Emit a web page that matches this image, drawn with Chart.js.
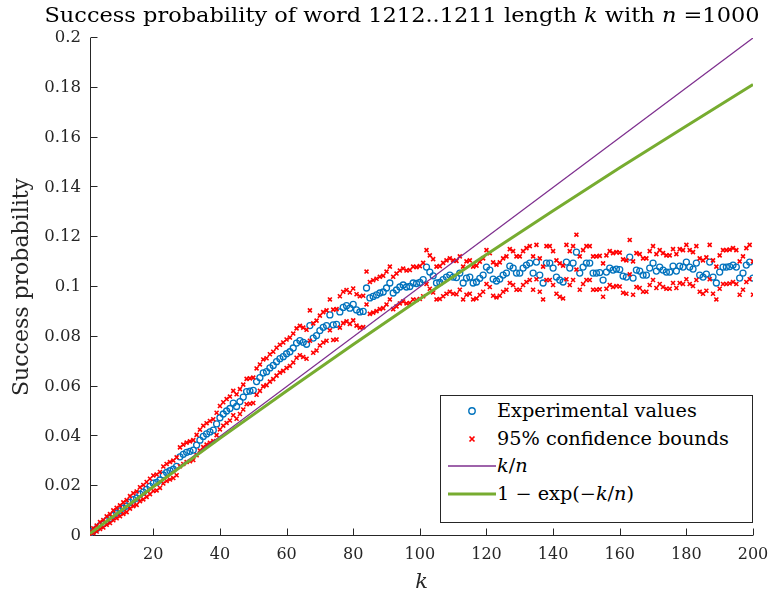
<!DOCTYPE html>
<html>
<head>
<meta charset="utf-8">
<script src="https://cdn.jsdelivr.net/npm/chart.js@4/dist/chart.umd.min.js"></script>
<style>
html,body{margin:0;padding:0;background:#fff;}
#wrap{position:relative;width:778px;height:600px;overflow:hidden;}
#c{position:absolute;left:0;top:0;}
#title{position:absolute;left:0;width:804px;top:0;height:30px;line-height:30px;text-align:center;font-family:'DejaVu Serif',serif;font-size:21px;color:#000;white-space:nowrap;transform:scaleX(1.07);transform-origin:402px 0;}
#legend{position:absolute;left:440px;top:395px;width:313px;height:128px;border:1px solid #262626;background:#fff;box-sizing:border-box;font-family:'DejaVu Serif',serif;font-size:18px;color:#000;}
#legend .row{position:absolute;left:0;height:28px;width:310px;}
#legend svg{position:absolute;left:0;top:0;}
#legend span{position:absolute;left:56px;top:0;line-height:28px;white-space:nowrap;transform:scaleX(1.07);transform-origin:0 0;}
</style>
</head>
<body>
<div id="wrap">
<canvas id="c" width="778" height="600"></canvas>
<div id="title">Success probability of word 1212..1211 length <i>k</i> with <i>n</i> =1000</div>
<div id="legend">
 <div class="row" style="top:1px"><svg width="56" height="28"><circle cx="31" cy="14" r="3.2" fill="none" stroke="#0072BD" stroke-width="1.4"/></svg><span>Experimental values</span></div>
 <div class="row" style="top:29px"><svg width="56" height="28"><path d="M28.5 11.5 L33.5 16.5 M33.5 11.5 L28.5 16.5" stroke="#FF0000" stroke-width="1.7"/></svg><span>95% confidence bounds</span></div>
 <div class="row" style="top:56px"><svg width="56" height="28"><line x1="7" y1="14" x2="55" y2="14" stroke="#7E2F8E" stroke-width="1.3"/></svg><span><i>k</i>/<i>n</i></span></div>
 <div class="row" style="top:84px"><svg width="56" height="28"><line x1="7" y1="14" x2="55" y2="14" stroke="#77AC30" stroke-width="3"/></svg><span>1 − exp(−<i>k</i>/<i>n</i>)</span></div>
</div>
</div>
<script>
// ---- data ----
const kFirst = 1; // k runs 1..200, one value per k
const experimental = [
0.0010,0.0021,0.0030,0.0042,0.0049,0.0062,0.0070,0.0083,0.0092,0.0101,0.0112,0.0120,0.0135,0.0146,0.0152,0.0168,0.0176,0.0187,0.0199,0.0212,
0.0215,0.0225,0.0245,0.0255,0.0262,0.0268,0.0280,0.0318,0.0328,0.0336,0.0340,0.0345,0.0365,0.0385,0.0400,0.0410,0.0418,0.0425,0.0450,0.0475,
0.0490,0.0502,0.0512,0.0534,0.0520,0.0540,0.0558,0.0580,0.0582,0.0585,0.0620,0.0636,0.0655,0.0660,0.0675,0.0685,0.0700,0.0712,0.0720,0.0732,
0.0740,0.0755,0.0775,0.0785,0.0778,0.0770,0.0845,0.0795,0.0805,0.0825,0.0838,0.0845,0.0888,0.0848,0.0850,0.0900,0.0918,0.0925,0.0915,0.0930,
0.0908,0.0900,0.0902,0.0996,0.0956,0.0962,0.0968,0.0976,0.0980,0.0996,0.1016,0.0976,0.0988,0.1000,0.1008,0.1000,0.1002,0.1016,0.1014,0.1018,
0.1030,0.1080,0.1060,0.1045,0.1016,0.1018,0.1030,0.1040,0.1048,0.1040,0.1038,0.1056,0.1016,0.1036,0.1040,0.1016,0.1020,0.1035,0.1048,0.1080,
0.1068,0.1032,0.1024,0.1032,0.1048,0.1056,0.1084,0.1076,0.1056,0.1056,0.1076,0.1088,0.1096,0.1056,0.1100,0.1048,0.1016,0.1096,0.1096,0.1076,
0.1040,0.1028,0.1020,0.1100,0.1076,0.1096,0.1140,0.1056,0.1080,0.1096,0.1096,0.1056,0.1056,0.1058,0.1028,0.1060,0.1076,0.1068,0.1072,0.1070,
0.1044,0.1040,0.1120,0.1036,0.1068,0.1064,0.1048,0.1048,0.1076,0.1096,0.1064,0.1080,0.1068,0.1060,0.1060,0.1084,0.1064,0.1084,0.1080,0.1100,
0.1080,0.1072,0.1096,0.1048,0.1040,0.1052,0.1100,0.1040,0.1016,0.1060,0.1080,0.1080,0.1082,0.1088,0.1080,0.1036,0.1056,0.1088,0.1100,0.1036
];
const upperBound = [
0.0017,0.0031,0.0042,0.0056,0.0064,0.0079,0.0088,0.0103,0.0113,0.0123,0.0135,0.0144,0.0160,0.0172,0.0179,0.0196,0.0205,0.0217,0.0230,0.0243,
0.0247,0.0257,0.0279,0.0289,0.0297,0.0303,0.0316,0.0356,0.0367,0.0375,0.0380,0.0385,0.0406,0.0427,0.0443,0.0453,0.0462,0.0469,0.0495,0.0522,
0.0537,0.0550,0.0560,0.0583,0.0569,0.0590,0.0608,0.0631,0.0633,0.0636,0.0673,0.0689,0.0709,0.0714,0.0730,0.0740,0.0756,0.0768,0.0777,0.0789,
0.0797,0.0813,0.0834,0.0844,0.0837,0.0828,0.0906,0.0854,0.0865,0.0885,0.0899,0.0906,0.0950,0.0909,0.0911,0.0963,0.0981,0.0988,0.0978,0.0994,
0.0971,0.0963,0.0965,0.1062,0.1020,0.1027,0.1033,0.1041,0.1045,0.1062,0.1082,0.1041,0.1054,0.1066,0.1074,0.1066,0.1068,0.1082,0.1080,0.1084,
0.1097,0.1148,0.1127,0.1112,0.1082,0.1084,0.1097,0.1107,0.1115,0.1107,0.1105,0.1123,0.1082,0.1103,0.1107,0.1082,0.1086,0.1102,0.1115,0.1148,
0.1136,0.1099,0.1090,0.1099,0.1115,0.1123,0.1152,0.1144,0.1123,0.1123,0.1144,0.1156,0.1164,0.1123,0.1169,0.1115,0.1082,0.1164,0.1164,0.1144,
0.1107,0.1095,0.1086,0.1169,0.1144,0.1164,0.1210,0.1123,0.1148,0.1164,0.1164,0.1123,0.1123,0.1125,0.1095,0.1127,0.1144,0.1136,0.1140,0.1138,
0.1111,0.1107,0.1189,0.1103,0.1136,0.1132,0.1115,0.1115,0.1144,0.1164,0.1132,0.1148,0.1136,0.1127,0.1127,0.1152,0.1132,0.1152,0.1148,0.1169,
0.1148,0.1140,0.1164,0.1115,0.1107,0.1119,0.1169,0.1107,0.1082,0.1127,0.1148,0.1148,0.1150,0.1156,0.1148,0.1103,0.1123,0.1156,0.1169,0.1103
];
const lowerBound = [
0.0003,0.0011,0.0018,0.0028,0.0034,0.0045,0.0052,0.0063,0.0071,0.0079,0.0089,0.0096,0.0110,0.0120,0.0125,0.0140,0.0147,0.0157,0.0168,0.0181,
0.0183,0.0193,0.0211,0.0221,0.0227,0.0233,0.0244,0.0280,0.0289,0.0297,0.0300,0.0305,0.0324,0.0343,0.0357,0.0367,0.0374,0.0381,0.0405,0.0428,
0.0443,0.0454,0.0464,0.0485,0.0471,0.0490,0.0508,0.0529,0.0531,0.0534,0.0567,0.0583,0.0601,0.0606,0.0620,0.0630,0.0644,0.0656,0.0663,0.0675,
0.0683,0.0697,0.0716,0.0726,0.0719,0.0712,0.0784,0.0736,0.0745,0.0765,0.0777,0.0784,0.0826,0.0787,0.0789,0.0837,0.0855,0.0862,0.0852,0.0866,
0.0845,0.0837,0.0839,0.0930,0.0892,0.0897,0.0903,0.0911,0.0915,0.0930,0.0950,0.0911,0.0922,0.0934,0.0942,0.0934,0.0936,0.0950,0.0948,0.0952,
0.0963,0.1012,0.0993,0.0978,0.0950,0.0952,0.0963,0.0973,0.0981,0.0973,0.0971,0.0989,0.0950,0.0969,0.0973,0.0950,0.0954,0.0968,0.0981,0.1012,
0.1000,0.0965,0.0958,0.0965,0.0981,0.0989,0.1016,0.1008,0.0989,0.0989,0.1008,0.1020,0.1028,0.0989,0.1031,0.0981,0.0950,0.1028,0.1028,0.1008,
0.0973,0.0961,0.0954,0.1031,0.1008,0.1028,0.1070,0.0989,0.1012,0.1028,0.1028,0.0989,0.0989,0.0991,0.0961,0.0993,0.1008,0.1000,0.1004,0.1002,
0.0977,0.0973,0.1051,0.0969,0.1000,0.0996,0.0981,0.0981,0.1008,0.1028,0.0996,0.1012,0.1000,0.0993,0.0993,0.1016,0.0996,0.1016,0.1012,0.1031,
0.1012,0.1004,0.1028,0.0981,0.0973,0.0985,0.1031,0.0973,0.0950,0.0993,0.1012,0.1012,0.1014,0.1020,0.1012,0.0969,0.0989,0.1020,0.1031,0.0969
];
// theoretical curves read at a few k
const kOverNK = [1, 200];
const kOverNVal = [0.001, 0.2];
const expCurveK = [1, 20, 40, 60, 80, 100, 120, 140, 160, 180, 200];
const expCurveVal = [0.0010, 0.0198, 0.0392, 0.0582, 0.0769, 0.0952, 0.1131, 0.1306, 0.1479, 0.1647, 0.1813];
// axis ticks
const xTickValues = [20, 40, 60, 80, 100, 120, 140, 160, 180, 200];
const yTickValues = [0, 0.02, 0.04, 0.06, 0.08, 0.1, 0.12, 0.14, 0.16, 0.18, 0.2];
const yTickLabels = ['0', '0.02', '0.04', '0.06', '0.08', '0.1', '0.12', '0.14', '0.16', '0.18', '0.2'];

// ---- build ----
const toPts = arr => arr.map((v, i) => ({x: kFirst + i, y: v}));
const pair = (xs, ys) => xs.map((x, i) => ({x: x, y: ys[i]}));
const AXIS = '#262626';
const FONT = "'DejaVu Serif', serif";

const axesPlugin = {
  id: 'axesInward',
  beforeDatasetsDraw(chart) {
    const {ctx, chartArea: a, scales: {x, y}} = chart;
    ctx.save();
    ctx.strokeStyle = AXIS;
    ctx.lineWidth = 1;
    ctx.beginPath();
    const L = Math.round(a.left) + 0.5, B = Math.round(a.bottom) - 0.5;
    ctx.moveTo(L, Math.round(a.top)); ctx.lineTo(L, B); ctx.lineTo(Math.round(a.right), B);
    xTickValues.forEach(v => {
      const px = Math.round(x.getPixelForValue(v)) + 0.5;
      ctx.moveTo(px, B); ctx.lineTo(px, B - 7);
    });
    yTickValues.forEach(v => {
      const py = Math.round(y.getPixelForValue(v)) - 0.5;
      ctx.moveTo(L, py); ctx.lineTo(L + 7, py);
    });
    ctx.stroke();
    ctx.restore();
  }
};

new Chart(document.getElementById('c'), {
  type: 'scatter',
  data: {
    datasets: [
      {label: '1 − exp(−k/n)', data: pair(expCurveK, expCurveVal), showLine: true, pointRadius: 0, borderColor: '#77AC30', borderWidth: 3, fill: false, order: 1, tension: 0},
      {label: 'k/n', data: pair(kOverNK, kOverNVal), showLine: true, pointRadius: 0, borderColor: '#7E2F8E', borderWidth: 1.3, fill: false, order: 2},
      {label: '95% confidence bounds', data: toPts(upperBound), pointStyle: 'crossRot', pointRadius: 2.8, borderColor: '#FF0000', backgroundColor: '#FF0000', pointBorderWidth: 1.6, order: 3},
      {label: '95% confidence bounds (lower)', data: toPts(lowerBound), pointStyle: 'crossRot', pointRadius: 2.8, borderColor: '#FF0000', backgroundColor: '#FF0000', pointBorderWidth: 1.6, order: 3},
      {label: 'Experimental values', data: toPts(experimental), pointStyle: 'circle', pointRadius: 3, borderColor: '#0072BD', backgroundColor: 'rgba(0,0,0,0)', pointBorderWidth: 1.3, order: 4}
    ]
  },
  options: {
    responsive: false,
    animation: false,
    devicePixelRatio: 1,
    layout: {padding: {top: 38, right: 25, left: 0, bottom: 0}},
    plugins: {legend: {display: false}, tooltip: {enabled: false}, title: {display: false}},
    scales: {
      x: {
        type: 'linear', min: 1, max: 200,
        afterBuildTicks: s => { s.ticks = xTickValues.map(v => ({value: v})); },
        afterFit: s => { s.height = 64; },
        grid: {display: false, drawTicks: false, tickLength: 0},
        border: {display: false},
        ticks: {color: AXIS, font: {family: FONT, size: 16}, padding: 9, maxRotation: 0, autoSkip: false, callback: v => String(v)},
        title: {display: true, text: 'k', color: AXIS, font: {family: FONT, size: 21, style: 'italic'}, padding: {top: 0, bottom: 5}}
      },
      y: {
        type: 'linear', min: 0, max: 0.2,
        afterBuildTicks: s => { s.ticks = yTickValues.map(v => ({value: v})); },
        afterFit: s => { s.width = 90; },
        grid: {display: false, drawTicks: false, tickLength: 0},
        border: {display: false},
        ticks: {color: AXIS, font: {family: FONT, size: 16.5}, padding: 9, autoSkip: false, callback: (v, i) => yTickLabels[i]},
        title: {display: true, text: 'Success probability', color: AXIS, font: {family: FONT, size: 22}, padding: {top: 9, bottom: 0}}
      }
    }
  },
  plugins: [axesPlugin]
});
</script>
</body>
</html>
